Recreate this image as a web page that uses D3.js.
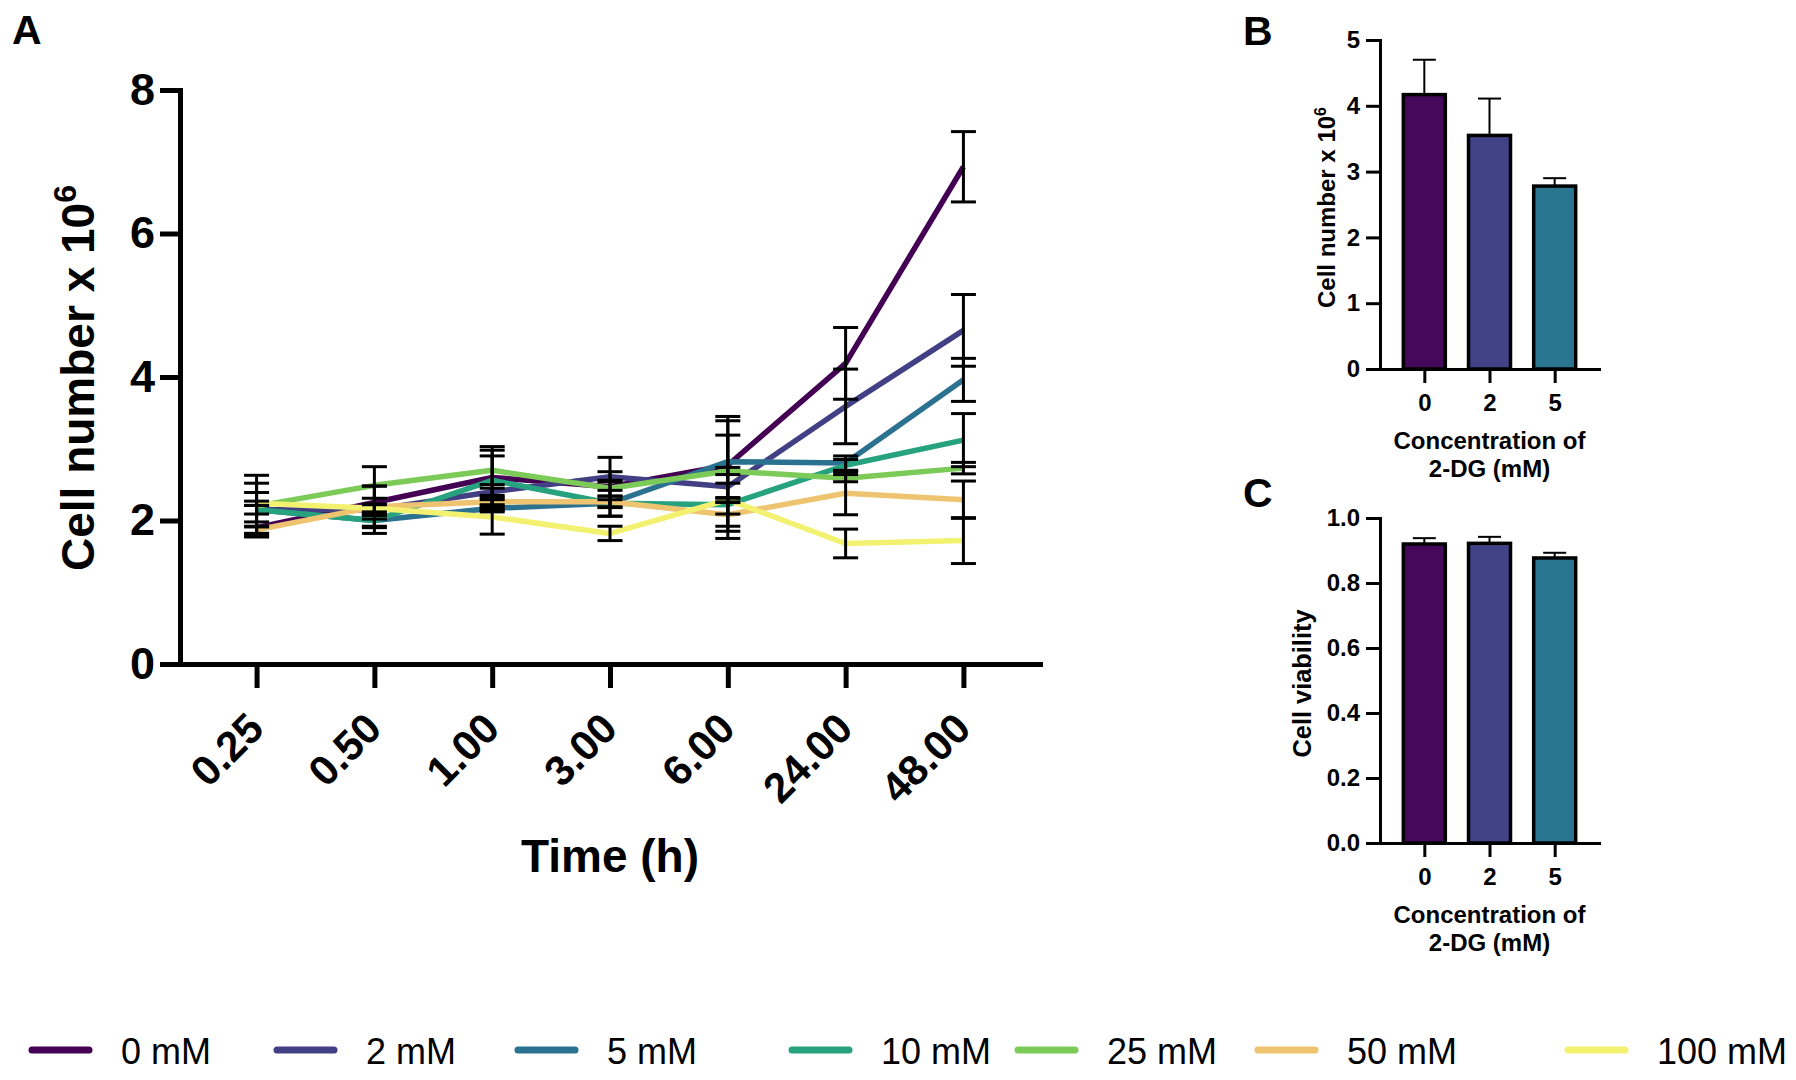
<!DOCTYPE html>
<html>
<head>
<meta charset="utf-8">
<script src="https://cdn.jsdelivr.net/npm/d3@7"></script>
<style>
  body { margin: 0; background: #fff; }
  svg text { font-family: "Liberation Sans", Arial, sans-serif; }
</style>
</head>
<body>
<div class="figure"></div>
<script>
// panel A: cell number over time for each 2-DG concentration
const times = ["0.25", "0.50", "1.00", "3.00", "6.00", "24.00", "48.00"]
const concLabels = ["0 mM", "2 mM", "5 mM", "10 mM", "25 mM", "50 mM", "100 mM"]

const mean0 = [1.90, 2.25, 2.60, 2.47, 2.77, 4.19, 6.93]
const sd0 = [0.08, 0.23, 0.43, 0.41, 0.68, 0.50, 0.49]
const mean2 = [2.15, 2.15, 2.40, 2.61, 2.47, 3.59, 4.65]
const sd2 = [0.37, 0.33, 0.05, 0.07, 0.72, 0.52, 0.50]
const mean5 = [2.15, 2.00, 2.17, 2.24, 2.82, 2.80, 3.96]
const sd5 = [0.24, 0.08, 0.05, 0.18, 0.57, 0.10, 0.30]
const mean10 = [2.15, 2.00, 2.56, 2.24, 2.22, 2.77, 3.12]
const sd10 = [0.06, 0.10, 0.42, 0.05, 0.30, 0.08, 0.37]
const mean25 = [2.20, 2.49, 2.70, 2.45, 2.69, 2.59, 2.73]
const sd25 = [0.43, 0.26, 0.20, 0.11, 0.05, 0.05, 0.08]
const mean50 = [1.87, 2.19, 2.26, 2.26, 2.08, 2.38, 2.29]
const sd50 = [0.05, 0.12, 0.06, 0.08, 0.23, 0.30, 0.26]
const mean100 = [2.24, 2.17, 2.05, 1.82, 2.29, 1.68, 1.72]
const sd100 = [0.03, 0.05, 0.24, 0.10, 0.03, 0.20, 0.32]
const yTicksA = [0, 2, 4, 6, 8]

// panels B and C: 48 h results
const doses = ["0", "2", "5"]
const cellNumber = [4.17, 3.55, 2.78]
const cellNumberSd = [0.53, 0.56, 0.12]
const viability = [0.920, 0.922, 0.877]
const viabilitySd = [0.018, 0.020, 0.016]
const yTicksB = [0, 1, 2, 3, 4, 5]
const yTicksC = [0, 0.2, 0.4, 0.6, 0.8, 1.0]

const lineColors = ["#440154", "#423f85", "#2b7290", "#27a27f", "#7cca57", "#efc470", "#f2f270"]
const barColors = ["#46085a", "#424386", "#2a7690"]

const allSd = [sd0, sd2, sd5, sd10, sd25, sd50, sd100]
const series = [mean0, mean2, mean5, mean10, mean25, mean50, mean100].map((m, i) => ({
  label: concLabels[i],
  color: lineColors[i],
  values: m.map((v, j) => ({ t: times[j], v: v, sd: allSd[i][j] }))
}))

const width = 1796, height = 1080
const svg = d3.select('.figure').append('svg')
  .attr('width', width)
  .attr('height', height)

// ---------- panel A ----------
const x = d3.scalePoint().domain(times).range([180, 1040]).padding(0.65)
const y = d3.scaleLinear().domain([0, 8]).range([664, 90])

const gA = svg.append('g')

const yAxisA = gA.append('g')
  .attr('transform', 'translate(180,0)')
  .call(d3.axisLeft(y).tickValues(yTicksA).tickSize(20).tickSizeOuter(0).tickPadding(5))
yAxisA.selectAll('text').style('font-size', '45px').style('font-weight', 700).attr('fill', '#000')

const xAxisA = gA.append('g')
  .attr('transform', 'translate(0,664)')
  .call(d3.axisBottom(x).tickSize(24).tickSizeOuter(0))
xAxisA.selectAll('text')
  .attr('x', 0).attr('y', 0).attr('dy', 0)
  .attr('transform', 'translate(9,67) rotate(-45)')
  .style('text-anchor', 'end')
  .style('font-size', '42px')
  .style('font-weight', 700)
  .attr('fill', '#000')

gA.selectAll('.domain').attr('stroke', '#000').attr('stroke-width', 5).attr('stroke-linecap', 'square')
gA.selectAll('.tick line').attr('stroke', '#000').attr('stroke-width', 5)

const line = d3.line().x(d => x(d.t)).y(d => y(d.v))

gA.selectAll('.series')
  .data(series)
  .enter()
  .append('path')
  .attr('d', d => line(d.values))
  .attr('fill', 'none')
  .attr('stroke', d => d.color)
  .attr('stroke-width', 5.5)
  .attr('stroke-linejoin', 'round')

// error bars (mean ± SD)
const errs = series.flatMap(s => s.values)
const capA = 12.5
const eb = gA.append('g').attr('stroke', '#000').attr('stroke-width', 3)
errs.forEach(d => {
  const cx = x(d.t)
  eb.append('line').attr('x1', cx).attr('x2', cx).attr('y1', y(d.v + d.sd)).attr('y2', y(d.v - d.sd))
  eb.append('line').attr('x1', cx - capA).attr('x2', cx + capA).attr('y1', y(d.v + d.sd)).attr('y2', y(d.v + d.sd))
  eb.append('line').attr('x1', cx - capA).attr('x2', cx + capA).attr('y1', y(d.v - d.sd)).attr('y2', y(d.v - d.sd))
})

const yTitleA = gA.append('text')
  .attr('transform', 'translate(94,378) rotate(-90)')
  .style('text-anchor', 'middle')
  .style('font-size', '46px')
  .style('font-weight', 700)
yTitleA.append('tspan').text('Cell number x 10')
yTitleA.append('tspan').text('6').attr('dy', -18).style('font-size', '32px')

gA.append('text')
  .attr('x', 610).attr('y', 872)
  .style('text-anchor', 'middle')
  .style('font-size', '46px')
  .style('font-weight', 700)
  .text('Time (h)')

// ---------- panels B and C ----------
function barPanel (g, values, sds, yDomain, yRange, ticks, fmt, yTitle, titleX, titleSize, titleLength) {
  const xb = d3.scalePoint().domain(doses).range([1380, 1599]).padding(0.68)
  const yb = d3.scaleLinear().domain(yDomain).range(yRange)
  const barW = 42

  g.selectAll('.bar')
    .data(values)
    .enter()
    .append('rect')
    .attr('x', (d, i) => xb(doses[i]) - barW / 2)
    .attr('y', d => yb(d))
    .attr('width', barW)
    .attr('height', d => yb(yDomain[0]) - yb(d))
    .attr('fill', (d, i) => barColors[i])
    .attr('stroke', '#000')
    .attr('stroke-width', 3.5)

  values.forEach((v, i) => {
    const cx = xb(doses[i])
    g.append('line').attr('x1', cx).attr('x2', cx).attr('y1', yb(v)).attr('y2', yb(v + sds[i]))
      .attr('stroke', '#000').attr('stroke-width', 2)
    g.append('line').attr('x1', cx - 11.5).attr('x2', cx + 11.5).attr('y1', yb(v + sds[i])).attr('y2', yb(v + sds[i]))
      .attr('stroke', '#000').attr('stroke-width', 2)
  })

  g.append('g')
    .attr('transform', 'translate(1380,0)')
    .call(d3.axisLeft(yb).tickValues(ticks).tickFormat(fmt).tickSize(14).tickSizeOuter(0).tickPadding(6))
  g.append('g')
    .attr('transform', `translate(0,${yRange[0]})`)
    .call(d3.axisBottom(xb).tickSize(14).tickSizeOuter(0).tickPadding(11))
  g.selectAll('.domain').attr('stroke', '#000').attr('stroke-width', 3).attr('stroke-linecap', 'square')
  g.selectAll('.tick line').attr('stroke', '#000').attr('stroke-width', 3)
  g.selectAll('.tick text').style('font-size', '24px').style('font-weight', 700).attr('fill', '#000')

  const t = g.append('text')
    .attr('transform', `translate(${titleX},${(yRange[0] + yRange[1]) / 2 + 3}) rotate(-90)`)
    .style('text-anchor', 'middle')
    .style('font-size', titleSize + 'px')
    .style('font-weight', 700)
  if (titleLength) t.attr('textLength', titleLength).attr('lengthAdjust', 'spacingAndGlyphs')
  yTitle(t)

  const xTitle = g.append('text')
    .attr('x', xb(doses[1]))
    .attr('y', yRange[0] + 80)
    .style('text-anchor', 'middle')
    .style('font-size', '24px')
    .style('font-weight', 700)
  xTitle.append('tspan').attr('x', xb(doses[1])).text('Concentration of')
  xTitle.append('tspan').attr('x', xb(doses[1])).attr('dy', 28).text('2-DG (mM)')
}

const gB = svg.append('g')
barPanel(gB, cellNumber, cellNumberSd, [0, 5], [369, 40], yTicksB, d3.format('d'),
  t => {
    t.append('tspan').text('Cell number x 10')
    t.append('tspan').text('6').attr('dy', -9).style('font-size', '16px')
  }, 1335, 24, null)

const gC = svg.append('g')
barPanel(gC, viability, viabilitySd, [0, 1], [843, 518], yTicksC, d3.format('.1f'),
  t => t.text('Cell viability'), 1311, 26, 148)

// panel letters
const letters = [['A', 12, 44], ['B', 1243, 45], ['C', 1243, 507]]
svg.selectAll('.letter')
  .data(letters)
  .enter()
  .append('text')
  .attr('x', d => d[1])
  .attr('y', d => d[2])
  .style('font-size', '41px')
  .style('font-weight', 700)
  .text(d => d[0])

// legend
const legendX = [29, 274, 515, 789, 1015, 1255, 1565]
const leg = svg.append('g').attr('transform', 'translate(0,1050)')
series.forEach((s, i) => {
  leg.append('line')
    .attr('x1', legendX[i] + 3).attr('x2', legendX[i] + 60)
    .attr('stroke', s.color).attr('stroke-width', 7).attr('stroke-linecap', 'round')
  leg.append('text')
    .attr('x', legendX[i] + 92).attr('y', 14)
    .style('font-size', '36px')
    .text(s.label)
})
</script>
</body>
</html>
